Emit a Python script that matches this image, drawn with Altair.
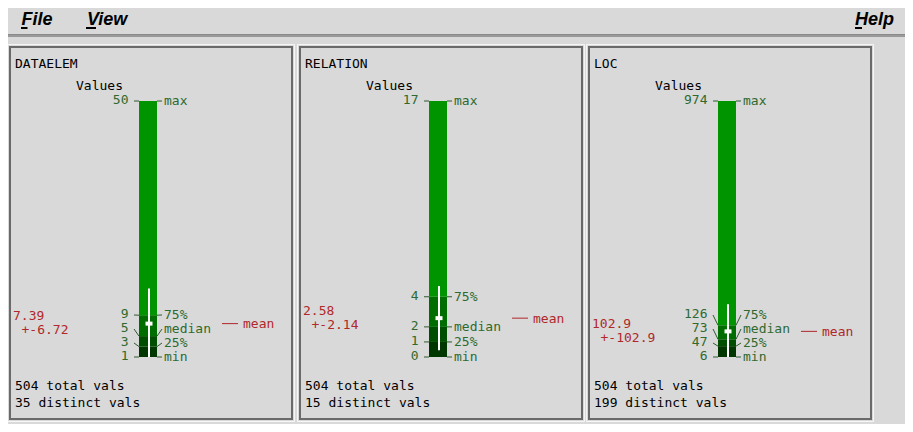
import altair as alt
import pandas as pd

# ---------------- data ----------------
names = ["DATAELEM", "RELATION", "LOC"]
mins = [1, 0, 6]
q1s = [3, 1, 47]
medians = [5, 2, 73]
q3s = [9, 4, 126]
maxs = [50, 17, 974]
means = [7.39, 2.58, 102.9]
sds = [6.72, 2.14, 102.9]
totals = [504, 504, 504]
distincts = [35, 15, 199]
stat_labels = ["min", "25%", "median", "75%", "max"]
menu_items = ["File", "View", "Help"]

# ---------------- layout / style ----------------
OFF = [0, 290, 579]          # horizontal offset of each panel
PX_TOP, PX_BOT = 101, 357    # screen rows of max / min
GAP = 14 / (PX_BOT - PX_TOP) # min label spacing (normalised)
W, H = 897, 416
MONO = "DejaVu Sans Mono"
BG = "#d9d9d9"
GREEN_TXT = "#2e6a2e"
TICK_C = "#2e5a2e"
RED = "#b0282a"
SEG_COLORS = ["#003600", "#004f00", "#006d00", "#009400"]

xs = alt.Scale(domain=[8, 8 + W], range=[0, W], nice=False, zero=False)
ys = alt.Scale(domain=[0, 1], range=[PX_BOT - 8, PX_TOP - 8], nice=False, zero=False)
yp = alt.Scale(domain=[8, 8 + H], range=[0, H], nice=False, zero=False)

segs, ticks, left_lab, right_lab, stats, panel_txt = [], [], [], [], [], []
for i, nm in enumerate(names):
    o = OFF[i]
    vals = [mins[i], q1s[i], medians[i], q3s[i], maxs[i]]
    lo, hi = mins[i], maxs[i]
    ns = [(v - lo) / (hi - lo) for v in vals]
    for k in range(4):
        segs.append(dict(x=139 + o, x2=157 + o, n0=ns[k], n1=ns[k + 1], c=SEG_COLORS[k]))
    lab = [ns[0]]
    for k in range(1, 4):
        lab.append(max(ns[k], lab[-1] + GAP))
    lab.append(ns[4])
    for k in range(5):
        ticks.append(dict(x=134 + o, x2=139 + o, a=lab[k], b=ns[k]))
        ticks.append(dict(x=157 + o, x2=162 + o, a=ns[k], b=lab[k]))
        left_lab.append(dict(x=128.5 + o, n=lab[k], t=f"{vals[k]:g}"))
        right_lab.append(dict(x=164 + o, n=lab[k], t=stat_labels[k]))
    mn = (means[i] - lo) / (hi - lo)
    s_lo = (max(means[i] - sds[i], lo) - lo) / (hi - lo)
    s_hi = (min(means[i] + sds[i], hi) - lo) / (hi - lo)
    stats.append(dict(xc=149 + o, xl=222 + o, xl2=238 + o, xt=243 + o,
                      xm=13 + o, xs=21.5 + o, mn=mn, slo=s_lo, shi=s_hi,
                      mtxt=f"{means[i]:g}", stxt=f"+-{sds[i]:g}"))
    panel_txt.append(dict(x=15 + o, y=68, t=nm))
    panel_txt.append(dict(x=76 + o, y=90, t="Values"))
    panel_txt.append(dict(x=15 + o, y=390, t=f"{totals[i]} total vals"))
    panel_txt.append(dict(x=15 + o, y=407, t=f"{distincts[i]} distinct vals"))

segs = pd.DataFrame(segs)
ticks = pd.DataFrame(ticks)
left_lab = pd.DataFrame(left_lab)
right_lab = pd.DataFrame(right_lab)
stats = pd.DataFrame(stats)
panel_txt = pd.DataFrame(panel_txt)

frames = []
for i in range(3):
    o = OFF[i]
    frames.append(dict(x=7.5 + o, x2=294.5 + o, y=44.5, y2=421.5, c="#f6f6f6", w=1))
    frames.append(dict(x=10 + o, x2=292 + o, y=47, y2=419, c="#6a6a6a", w=2))
frames = pd.DataFrame(frames)

lines = pd.DataFrame([
    dict(x=8, x2=905, y=34.5, y2=34.5, c="#8a8a8a", w=1),
    dict(x=8, x2=905, y=36, y2=36, c="#5a5a5a", w=1),
    dict(x=21, x2=27.5, y=28, y2=28, c="#000000", w=2),
    dict(x=86, x2=96, y=28, y2=28, c="#000000", w=2),
    dict(x=855, x2=862, y=28, y2=28, c="#000000", w=2),
])
menu = pd.DataFrame(dict(x=[21.5, 87, 855], y=[25, 25, 25], t=menu_items))


def X(f):
    return alt.X(f"{f}:Q", scale=xs, axis=None)


def Yd(f):
    return alt.Y(f"{f}:Q", scale=ys, axis=None)


def Yp(f):
    return alt.Y(f"{f}:Q", scale=yp, axis=None)


layers = []
# decoration
layers.append(alt.Chart(frames).mark_rect(fillOpacity=0).encode(
    x=X("x"), x2="x2", y=Yp("y"), y2="y2",
    stroke=alt.Stroke("c:N", scale=None),
    strokeWidth=alt.StrokeWidth("w:Q", scale=None)))
layers.append(alt.Chart(lines).mark_rule().encode(
    x=X("x"), x2="x2", y=Yp("y"), y2="y2",
    color=alt.Color("c:N", scale=None),
    strokeWidth=alt.StrokeWidth("w:Q", scale=None)))
layers.append(alt.Chart(menu).mark_text(
    align="left", baseline="alphabetic", font="Liberation Sans", fontSize=18,
    fontWeight="bold", fontStyle="italic", color="#000000").encode(
    x=X("x"), y=Yp("y"), text="t:N"))
layers.append(alt.Chart(panel_txt).mark_text(
    align="left", baseline="alphabetic", font=MONO, fontSize=13, color="#000000").encode(
    x=X("x"), y=Yp("y"), text="t:N"))

# data
layers.append(alt.Chart(segs).mark_rect().encode(
    x=X("x"), x2="x2", y=Yd("n1"), y2="n0", color=alt.Color("c:N", scale=None)))
layers.append(alt.Chart(ticks).mark_rule(color=TICK_C, strokeWidth=1).encode(
    x=X("x"), x2="x2", y=Yd("a"), y2="b"))
layers.append(alt.Chart(left_lab).mark_text(
    align="right", baseline="alphabetic", font=MONO, fontSize=13, color=GREEN_TXT, dy=3).encode(
    x=X("x"), y=Yd("n"), text="t:N"))
layers.append(alt.Chart(right_lab).mark_text(
    align="left", baseline="alphabetic", font=MONO, fontSize=13, color=GREEN_TXT, dy=4).encode(
    x=X("x"), y=Yd("n"), text="t:N"))
layers.append(alt.Chart(stats).mark_rule(color="#ffffff", strokeWidth=2).encode(
    x=X("xc"), y=Yd("shi"), y2="slo"))
layers.append(alt.Chart(stats).mark_tick(
    orient="horizontal", color="#ffffff", size=7, thickness=4, opacity=1).encode(
    x=X("xc"), y=Yd("mn")))
layers.append(alt.Chart(stats).mark_rule(color=RED, strokeWidth=1).encode(
    x=X("xl"), x2="xl2", y=Yd("mn")))
layers.append(alt.Chart(stats).mark_text(
    align="left", baseline="alphabetic", font=MONO, fontSize=13, color=RED, dy=4.5).encode(
    x=X("xt"), y=Yd("mn"), text=alt.value("mean")))
layers.append(alt.Chart(stats).mark_text(
    align="left", baseline="alphabetic", font=MONO, fontSize=13, color=RED, dy=-3.5).encode(
    x=X("xm"), y=Yd("mn"), text="mtxt:N"))
layers.append(alt.Chart(stats).mark_text(
    align="left", baseline="alphabetic", font=MONO, fontSize=13, color=RED, dy=10.5).encode(
    x=X("xs"), y=Yd("mn"), text="stxt:N"))

chart = alt.layer(*layers).resolve_scale(y="independent").properties(
    width=W, height=H, padding=0, background=BG,
    autosize=alt.AutoSizeParams(type="none"),
).configure_view(stroke=None)

chart.save("out.html", embed_options={"renderer": "svg", "actions": False})
